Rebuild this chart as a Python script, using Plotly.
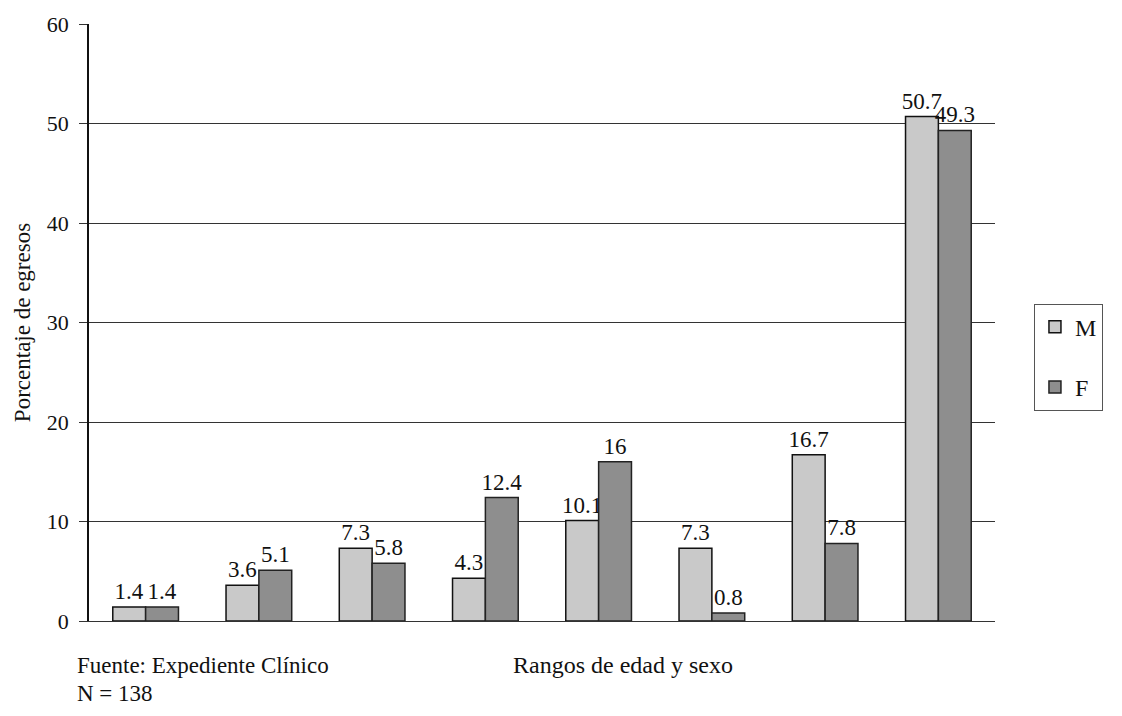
import plotly.graph_objects as go

# Porcentaje de egresos por rango de edad y sexo
grupos = ["G1", "G2", "G3", "G4", "G5", "G6", "G7", "G8"]
masculino = [1.4, 3.6, 7.3, 4.3, 10.1, 7.3, 16.7, 50.7]
femenino = [1.4, 5.1, 5.8, 12.4, 16, 0.8, 7.8, 49.3]
y_ticks = [0, 10, 20, 30, 40, 50, 60]

serif = "Liberation Serif, Times New Roman, serif"

fig = go.Figure()
fig.add_trace(go.Bar(
    x=grupos, y=masculino, name="M", legendgroup="M",
    marker=dict(color="#c9c9c9", line=dict(color="#111111", width=1.5)),
    text=[str(v) for v in masculino], textposition="outside",
    constraintext="none",
    textfont=dict(family=serif, size=23, color="#111111"), cliponaxis=False,
))
fig.add_trace(go.Bar(
    x=grupos, y=femenino, name="F", legendgroup="F",
    marker=dict(color="#8e8e8e", line=dict(color="#222222", width=1.5)),
    text=[str(v) for v in femenino], textposition="outside",
    constraintext="none",
    textfont=dict(family=serif, size=23, color="#111111"), cliponaxis=False,
))

fig.update_layout(
    width=1122, height=716,
    margin=dict(l=89, r=127, t=24, b=95),
    paper_bgcolor="white", plot_bgcolor="white",
    barmode="group", bargap=0.42, bargroupgap=0,
    font=dict(family=serif, size=23, color="#111111"),
    showlegend=True,
    legend=dict(
        x=1.043, y=0.442, xanchor="left", yanchor="middle",
        bordercolor="#555555", borderwidth=1, bgcolor="white",
        font=dict(family=serif, size=24, color="#111111"),
        tracegroupgap=26, itemwidth=30,
    ),
    xaxis=dict(
        showticklabels=False, ticks="", showgrid=False,
        showline=True, linecolor="#333333", linewidth=1,
    ),
    yaxis=dict(
        range=[0, 60], tickvals=y_ticks, ticks="outside", ticklen=8,
        tickcolor="#333333", showgrid=True, gridcolor="#333333", gridwidth=1,
        showline=True, linecolor="#111111", linewidth=1.5,
        tickfont=dict(family=serif, size=22), ticklabelstandoff=6,
        title=dict(text="Porcentaje de egresos", standoff=10,
                   font=dict(family=serif, size=23)),
        zeroline=False,
    ),
)

# x-axis title, placed slightly right of center
fig.add_annotation(
    text="Rangos de edad y sexo", xref="paper", yref="paper",
    x=0.589, y=-0.073, xanchor="center", yanchor="middle", showarrow=False,
    font=dict(family=serif, size=24, color="#111111"),
)
fig.add_annotation(
    text="Fuente: Expediente Clínico", xref="paper", yref="paper",
    x=-0.016, y=-0.075, xanchor="left", yanchor="middle", showarrow=False,
    font=dict(family=serif, size=23, color="#111111"),
)
fig.add_annotation(
    text="N = 138", xref="paper", yref="paper",
    x=-0.016, y=-0.122, xanchor="left", yanchor="middle", showarrow=False,
    font=dict(family=serif, size=23, color="#111111"),
)

fig.write_html("out.html")
